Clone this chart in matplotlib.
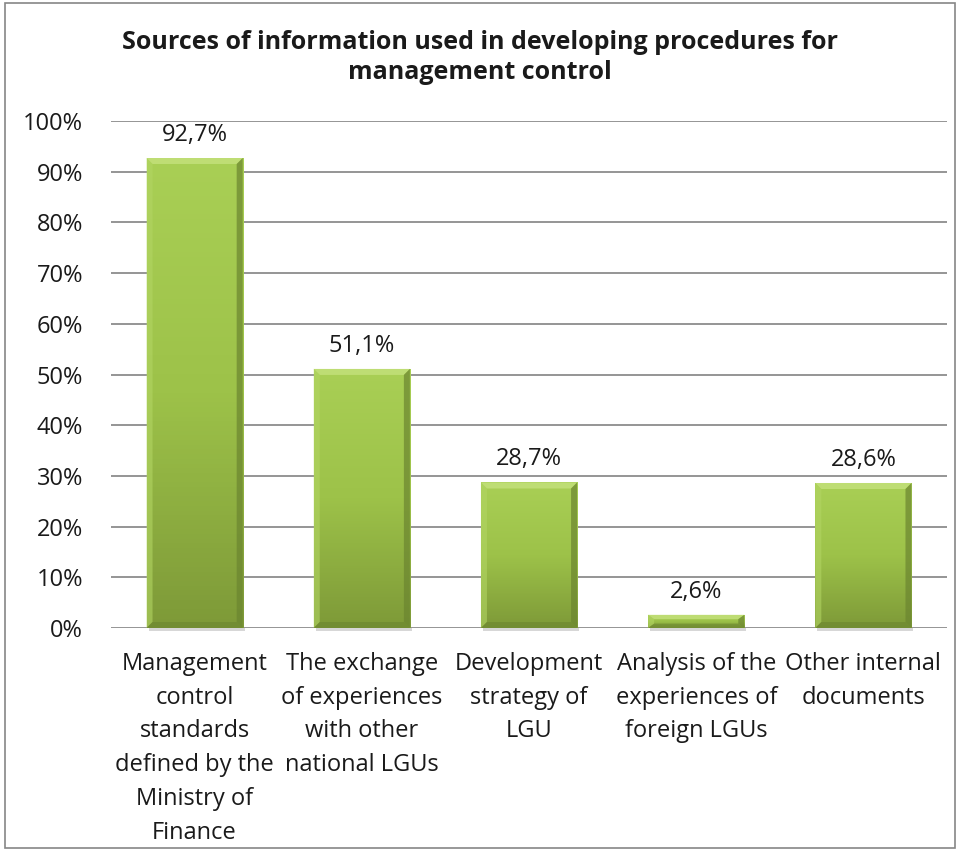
import numpy as np
import matplotlib.pyplot as plt
from matplotlib.patches import Rectangle, Polygon
from matplotlib.colors import LinearSegmentedColormap

categories = [
    "Management\ncontrol\nstandards\ndefined by the\nMinistry of\nFinance",
    "The exchange\nof experiences\nwith other\nnational LGUs",
    "Development\nstrategy of\nLGU",
    "Analysis of the\nexperiences of\nforeign LGUs",
    "Other internal\ndocuments",
]
values = [92.7, 51.1, 28.7, 2.6, 28.6]
value_labels = ["92,7%", "51,1%", "28,7%", "2,6%", "28,6%"]
yticks = [0, 10, 20, 30, 40, 50, 60, 70, 80, 90, 100]
title = "Sources of information used in developing procedures for\nmanagement control"

plt.rcParams['font.family'] = ['Open Sans', 'DejaVu Sans']
FS = 17

fig = plt.figure(figsize=(9.6, 8.52), dpi=100)
ax = fig.add_axes([111/960, 1 - 628/852, 836/960, 507/852])

n = len(values)
ax.set_xlim(-0.5, n - 0.5)
ax.set_ylim(0, 100)

for t in yticks:
    ax.axhline(t, color='#8c8c8c', lw=1.3, zorder=1)

width = 0.575
# pixel sizes in data units for the bevel
px_x = n / 836.0
px_y = 100 / 507.0
bev_x = 6 * px_x
bev_y = 6 * px_y

grad = LinearSegmentedColormap.from_list('g', ['#7e9a38', '#9dc249', '#a9cf55'])
for i, v in enumerate(values):
    x0, x1 = i - width / 2, i + width / 2
    # soft shadow under the bar
    ax.add_patch(Rectangle((x0 + 2 * px_x, -3 * px_y), width, 3 * px_y,
                           facecolor='#b0b0b0', edgecolor='none', alpha=0.5,
                           zorder=2, clip_on=False))
    rect = Rectangle((x0, 0), width, v, facecolor='none', edgecolor='none', zorder=3)
    ax.add_patch(rect)
    img = np.linspace(0, 1, 100).reshape(-1, 1)
    im = ax.imshow(img, cmap=grad, extent=(x0, x1, 0, v), origin='lower',
                   aspect='auto', zorder=3)
    im.set_clip_path(rect)
    b_y = min(bev_y, v / 3)
    # top bevel
    ax.add_patch(Polygon([(x0, v), (x1, v), (x1 - bev_x, v - b_y), (x0 + bev_x, v - b_y)],
                         closed=True, facecolor='#c3e07a', edgecolor='none', alpha=0.85, zorder=4))
    # left bevel
    ax.add_patch(Polygon([(x0, 0), (x0, v), (x0 + bev_x, v - b_y), (x0 + bev_x, b_y)],
                         closed=True, facecolor='#b2d563', edgecolor='none', alpha=0.6, zorder=4))
    # right bevel
    ax.add_patch(Polygon([(x1, 0), (x1, v), (x1 - bev_x, v - b_y), (x1 - bev_x, b_y)],
                         closed=True, facecolor='#6b8530', edgecolor='none', alpha=0.7, zorder=4))
    # bottom bevel
    ax.add_patch(Polygon([(x0, 0), (x1, 0), (x1 - bev_x, b_y), (x0 + bev_x, b_y)],
                         closed=True, facecolor='#6b8530', edgecolor='none', alpha=0.6, zorder=4))
    ax.text(i, v + 23 * px_y, value_labels[i], ha='center', va='center', fontsize=FS,
            color='#1a1a1a', zorder=5)

ax.set_xticks(range(n))
ax.set_xticklabels(categories, fontsize=FS, linespacing=1.55, color='#1a1a1a')
ax.set_yticks(yticks)
ax.set_yticklabels([f"{t}%" for t in yticks], fontsize=FS, color='#1a1a1a')
ax.tick_params(axis='x', length=0, pad=17)
ax.tick_params(axis='y', length=0, pad=20)
for s in ax.spines.values():
    s.set_visible(False)

fig.text(0.5, 1 - 57.5/852, title, ha='center', va='center', fontsize=18,
         fontweight='bold', linespacing=1.25, color='#1a1a1a')

fig.add_artist(Rectangle((5/960, 4/852), 950/960, 845/852, transform=fig.transFigure,
                         facecolor='none', edgecolor='#868686', lw=1.2))

fig.savefig('out.png', dpi=100)
